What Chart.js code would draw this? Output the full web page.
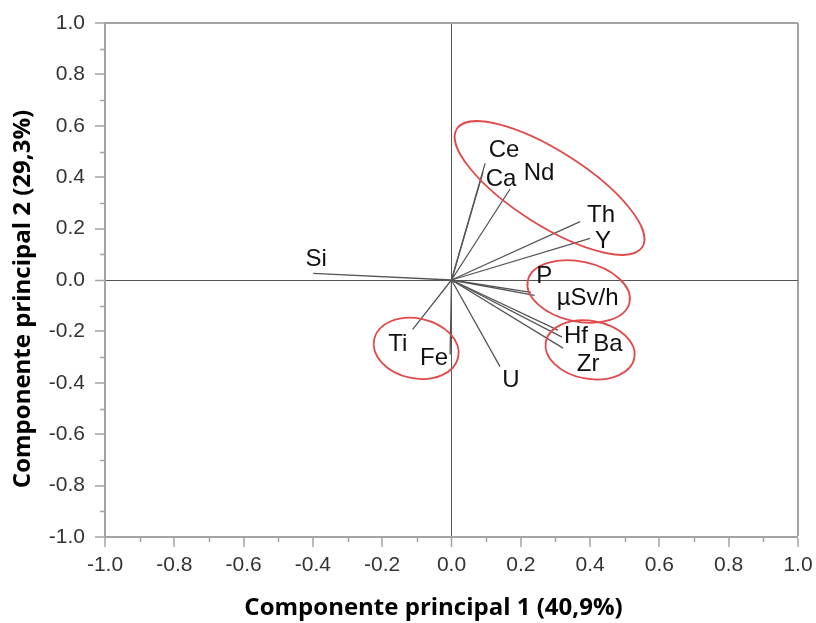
<!DOCTYPE html>
<html>
<head>
<meta charset="utf-8">
<script src="https://cdn.jsdelivr.net/npm/chart.js@4.4.1/dist/chart.umd.min.js"></script>
<style>
    html, body { margin: 0; padding: 0; background: #fff; }
    #wrap { width: 816px; height: 623px; }
</style>
</head>
<body>
<div id="wrap"><canvas id="pcaChart" width="816" height="623"></canvas></div>
<script>
// Loadings (PC1, PC2)
const variables = ['Si', 'Ce', 'Ca', 'Nd', 'Th', 'Y', 'P', 'µSv/h', 'Hf', 'Ba', 'Zr', 'U', 'Ti', 'Fe'];
const pc1 = [-0.399, 0.097, 0.091, 0.169, 0.371, 0.400, 0.230, 0.240, 0.307, 0.319, 0.322, 0.140, -0.112, -0.004];
const pc2 = [0.026, 0.454, 0.420, 0.354, 0.227, 0.162, -0.048, -0.060, -0.195, -0.222, -0.265, -0.337, -0.192, -0.290];

// Axis ticks
const tickValues = [-1.0, -0.8, -0.6, -0.4, -0.2, 0.0, 0.2, 0.4, 0.6, 0.8, 1.0];
const minorTickValues = [-0.9, -0.7, -0.5, -0.3, -0.1, 0.1, 0.3, 0.5, 0.7, 0.9];

const xTitle = 'Componente principal 1 (40,9%)';
const yTitle = 'Componente principal 2 (29,3%)';

// Where each name sits relative to the tip of its arrow (px)
const labelOffsets = {
    'Si': [3, -14], 'Ce': [19, -13], 'Ca': [18, 7], 'Nd': [29, -16],
    'Th': [21, -6], 'Y': [13, 3], 'P': [13, -16], 'µSv/h': [53, 3],
    'Hf': [18, 6], 'Ba': [46, 7], 'Zr': [25, 16], 'U': [11, 14],
    'Ti': [-15, 15], 'Fe': [-16, 4]
};

// Red group outlines: centre in data units, radii in px, tilt in degrees
const groupOutlines = [
    { x: 0.283, y: 0.358, rx: 110, ry: 37, angle: 32.5 },
    { x: 0.367, y: -0.045, rx: 52, ry: 30, angle: 12 },
    { x: 0.400, y: -0.272, rx: 45, ry: 29, angle: 10 },
    { x: -0.102, y: -0.266, rx: 43, ry: 30, angle: 12 }
];

const frameGrey = '#a3a3a3';
const zeroLine = '#555555';

function gridColor(ctx) {
    const v = ctx.tick ? ctx.tick.value : null;
    if (v === null) return 'rgba(0,0,0,0)';
    if (Math.abs(v) < 1e-9) return zeroLine;
    if (Math.abs(v - 1) < 1e-9) return frameGrey;
    return 'rgba(0,0,0,0)';
}
function gridWidth(ctx) {
    const v = ctx.tick ? ctx.tick.value : null;
    if (v === null) return 0;
    if (Math.abs(v) < 1e-9) return 1;
    if (Math.abs(v - 1) < 1e-9) return 2;
    return 0;
}

// Names at the arrow tips
const loadingLabels = {
    id: 'loadingLabels',
    afterDatasetsDraw(chart) {
        const ctx = chart.ctx;
        ctx.save();
        ctx.font = '24px "Liberation Sans", Arial, sans-serif';
        ctx.fillStyle = '#111';
        ctx.textAlign = 'center';
        ctx.textBaseline = 'middle';
        chart.data.datasets.forEach((ds, i) => {
            const tip = chart.getDatasetMeta(i).data[1];
            const off = labelOffsets[ds.label] || [0, 0];
            ctx.fillText(ds.label, tip.x + off[0], tip.y + off[1]);
        });
        ctx.restore();
    }
};

// Red ellipses round the groups
const groupEllipses = {
    id: 'groupEllipses',
    afterDatasetsDraw(chart) {
        const ctx = chart.ctx;
        const xs = chart.scales.x, ys = chart.scales.y;
        ctx.save();
        ctx.strokeStyle = '#e04a4a';
        ctx.lineWidth = 1.8;
        groupOutlines.forEach(e => {
            ctx.beginPath();
            ctx.ellipse(xs.getPixelForValue(e.x), ys.getPixelForValue(e.y),
                e.rx, e.ry, e.angle * Math.PI / 180, 0, Math.PI * 2);
            ctx.stroke();
        });
        ctx.restore();
    }
};

// Short minor ticks between the labelled ones, plus both axis titles
const minorTicks = {
    id: 'minorTicks',
    afterDraw(chart) {
        const ctx = chart.ctx;
        const xs = chart.scales.x, ys = chart.scales.y;
        const area = chart.chartArea;
        ctx.save();
        ctx.strokeStyle = frameGrey;
        ctx.lineWidth = 1.5;
        ctx.beginPath();
        minorTickValues.forEach(v => {
            const px = Math.round(xs.getPixelForValue(v)) + 0.5;
            ctx.moveTo(px, area.bottom);
            ctx.lineTo(px, area.bottom + 5);
            const py = Math.round(ys.getPixelForValue(v)) + 0.5;
            ctx.moveTo(area.left - 5, py);
            ctx.lineTo(area.left, py);
        });
        ctx.stroke();

        // titles are set a bit off-centre in the original
        ctx.font = 'bold 24px "Open Sans", sans-serif';
        ctx.fillStyle = '#000';
        ctx.textAlign = 'center';
        ctx.textBaseline = 'middle';
        ctx.fillText(xTitle, (area.left + area.right) / 2 - 18, chart.height - 15);

        ctx.translate(23, (area.top + area.bottom) / 2 + 19);
        ctx.rotate(-Math.PI / 2);
        ctx.fillText(yTitle, 0, 0);
        ctx.restore();
    }
};

const tickFont = { family: '"Liberation Sans", Arial, sans-serif', size: 21 };

const ctx = document.getElementById('pcaChart').getContext('2d');
const pcaChart = new Chart(ctx, {
    type: 'scatter',
    data: {
        datasets: variables.map((name, i) => ({
            label: name,
            data: [{ x: 0, y: 0 }, { x: pc1[i], y: pc2[i] }],
            showLine: true,
            borderColor: '#555',
            borderWidth: 1.3,
            pointRadius: 0,
            pointHoverRadius: 0,
            fill: false
        }))
    },
    options: {
        responsive: false,
        animation: false,
        devicePixelRatio: 1,
        layout: { padding: { top: 23, right: 18, left: 0, bottom: 0 } },
        plugins: {
            legend: { display: false },
            tooltip: { enabled: false }
        },
        scales: {
            x: {
                type: 'linear',
                min: -1,
                max: 1,
                afterBuildTicks: s => { s.ticks = tickValues.map(v => ({ value: v })); },
                afterFit: s => { s.height = 86; s.paddingLeft = 0; s.paddingRight = 0; },
                ticks: {
                    callback: v => v.toFixed(1),
                    color: '#333',
                    font: tickFont,
                    padding: 6,
                    maxRotation: 0,
                    autoSkip: false
                },
                grid: {
                    color: gridColor,
                    lineWidth: gridWidth,
                    drawTicks: true,
                    tickLength: 10,
                    tickColor: frameGrey,
                    tickWidth: 1.5
                },
                border: { color: frameGrey, width: 2 }
            },
            y: {
                type: 'linear',
                min: -1,
                max: 1,
                afterBuildTicks: s => { s.ticks = tickValues.map(v => ({ value: v })); },
                afterFit: s => { s.width = 105; s.paddingTop = 0; s.paddingBottom = 0; },
                ticks: {
                    callback: v => v.toFixed(1),
                    color: '#333',
                    font: tickFont,
                    padding: 10,
                    autoSkip: false
                },
                grid: {
                    color: gridColor,
                    lineWidth: gridWidth,
                    drawTicks: true,
                    tickLength: 10,
                    tickColor: frameGrey,
                    tickWidth: 1.5
                },
                border: { color: frameGrey, width: 2 }
            }
        }
    },
    plugins: [groupEllipses, loadingLabels, minorTicks]
});
</script>
</body>
</html>
